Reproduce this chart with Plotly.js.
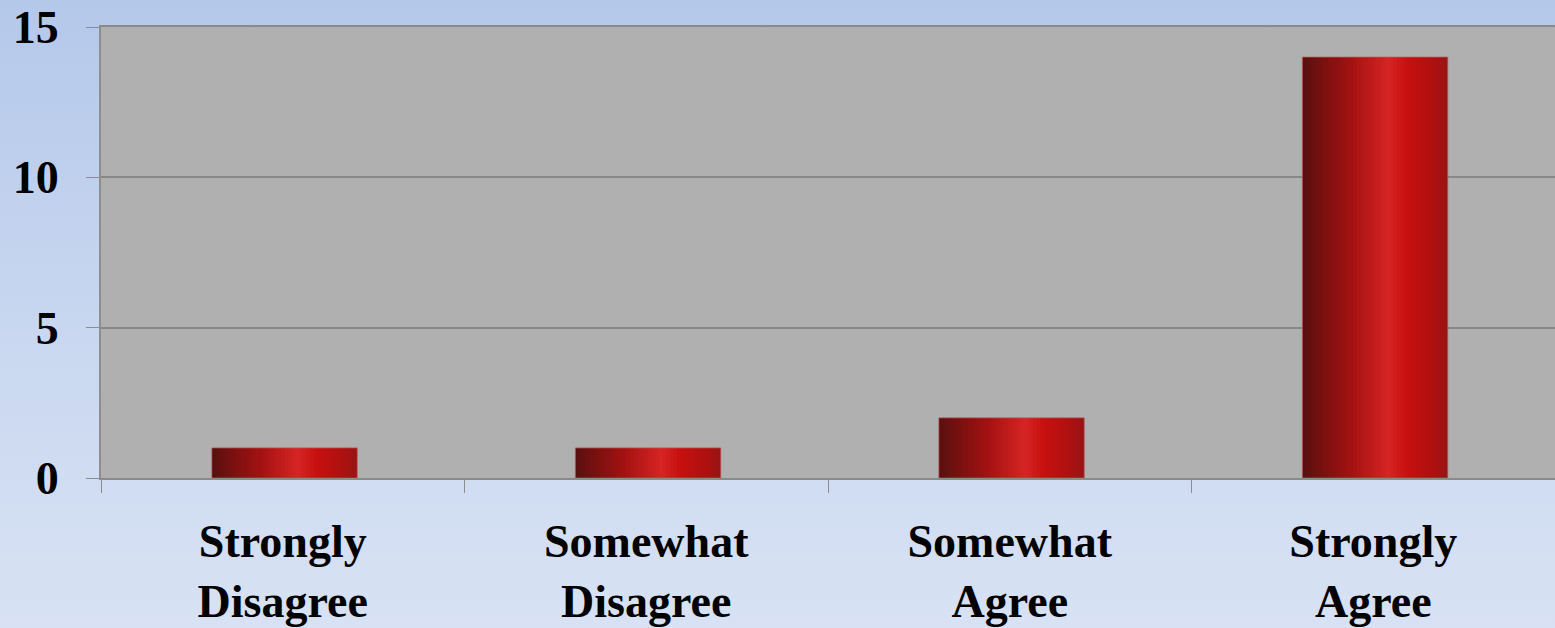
<!DOCTYPE html>
<html>
<head>
<meta charset="utf-8">
<script src="https://cdn.plot.ly/plotly-3.0.1.min.js"></script>
<style>
  html, body { margin: 0; padding: 0; width: 1555px; height: 628px; overflow: hidden;
    background: linear-gradient(to bottom, #b4c8ea 0%, #c6d5ef 45%, #d8e2f4 100%); }
  #chart { width: 1555px; height: 628px; }
</style>
</head>
<body>
<div id="chart"></div>
<script>
// Data
const categories = ["Strongly<br>Disagree", "Somewhat<br>Disagree", "Somewhat<br>Agree", "Strongly<br>Agree"];
const values = [1, 1, 2, 14];
const yTicks = [0, 5, 10, 15];

// Styling: cylinder-like horizontal gradient made from thin overlaid bar strips
const stops = [
  [0.00, [88, 16, 16]],
  [0.15, [124, 16, 16]],
  [0.35, [166, 18, 18]],
  [0.59, [214, 36, 36]],
  [0.72, [200, 16, 16]],
  [0.90, [174, 16, 16]],
  [1.00, [150, 20, 20]]
];
function colorAt(t) {
  for (let k = 0; k < stops.length - 1; k++) {
    const [p0, c0] = stops[k], [p1, c1] = stops[k + 1];
    if (t >= p0 && t <= p1) {
      const f = (t - p0) / (p1 - p0);
      const c = c0.map((v, i) => Math.round(v + (c1[i] - v) * f));
      return `rgb(${c[0]},${c[1]},${c[2]})`;
    }
  }
  return 'rgb(150,20,20)';
}
const barWidth = 0.4;
const N = 40;
const step = barWidth / N;
const traces = [];
for (let i = 0; i < N; i++) {
  const w = (i === N - 1) ? step : step * 1.6;
  traces.push({
    type: 'bar', x: categories, y: values,
    width: categories.map(() => w),
    offset: categories.map(() => -barWidth / 2 + i * step + 0.005),
    marker: { color: colorAt((i + 0.5) / N), line: { width: 0 } },
    hoverinfo: 'skip', showlegend: false
  });
}
traces.push({
  type: 'bar', x: categories, y: values,
  width: categories.map(() => barWidth),
  offset: categories.map(() => -barWidth / 2 + 0.005),
  marker: { color: 'rgba(0,0,0,0)', line: { width: 1, color: 'rgba(190,90,90,0.7)' } },
  hoverinfo: 'skip', showlegend: false
});

const yFont = { family: 'Liberation Serif, Times New Roman, serif', size: 46, color: '#000', weight: 700 };
const xFont = { family: 'Liberation Serif, Times New Roman, serif', size: 46, color: '#000', weight: 700 };

const layout = {
  width: 1555, height: 628,
  margin: { l: 101, r: 0, t: 27, b: 150, pad: 0 },
  paper_bgcolor: 'rgba(0,0,0,0)',
  plot_bgcolor: '#b0b0b0',
  barmode: 'overlay',
  showlegend: false,
  xaxis: {
    type: 'category', range: [-0.5, 3.5], tickson: 'boundaries',
    ticks: 'outside', ticklen: 13, tickcolor: '#8c8c8c', tickwidth: 1,
    showgrid: false, showline: true, linecolor: '#8a8a8a', linewidth: 2, mirror: true,
    tickfont: xFont, ticklabelstandoff: 22, fixedrange: true
  },
  yaxis: {
    range: [0, 15], tickvals: yTicks, ticktext: yTicks.map(String),
    ticks: 'outside', ticklen: 13, tickcolor: '#8c8c8c', tickwidth: 1,
    showgrid: true, gridcolor: '#888888', gridwidth: 2, zeroline: false,
    showline: true, linecolor: '#8e8e8e', linewidth: 2, mirror: true,
    tickfont: yFont, ticklabelstandoff: 18, fixedrange: true
  }
};

Plotly.newPlot('chart', traces, layout, { displayModeBar: false, staticPlot: true });
</script>
</body>
</html>
